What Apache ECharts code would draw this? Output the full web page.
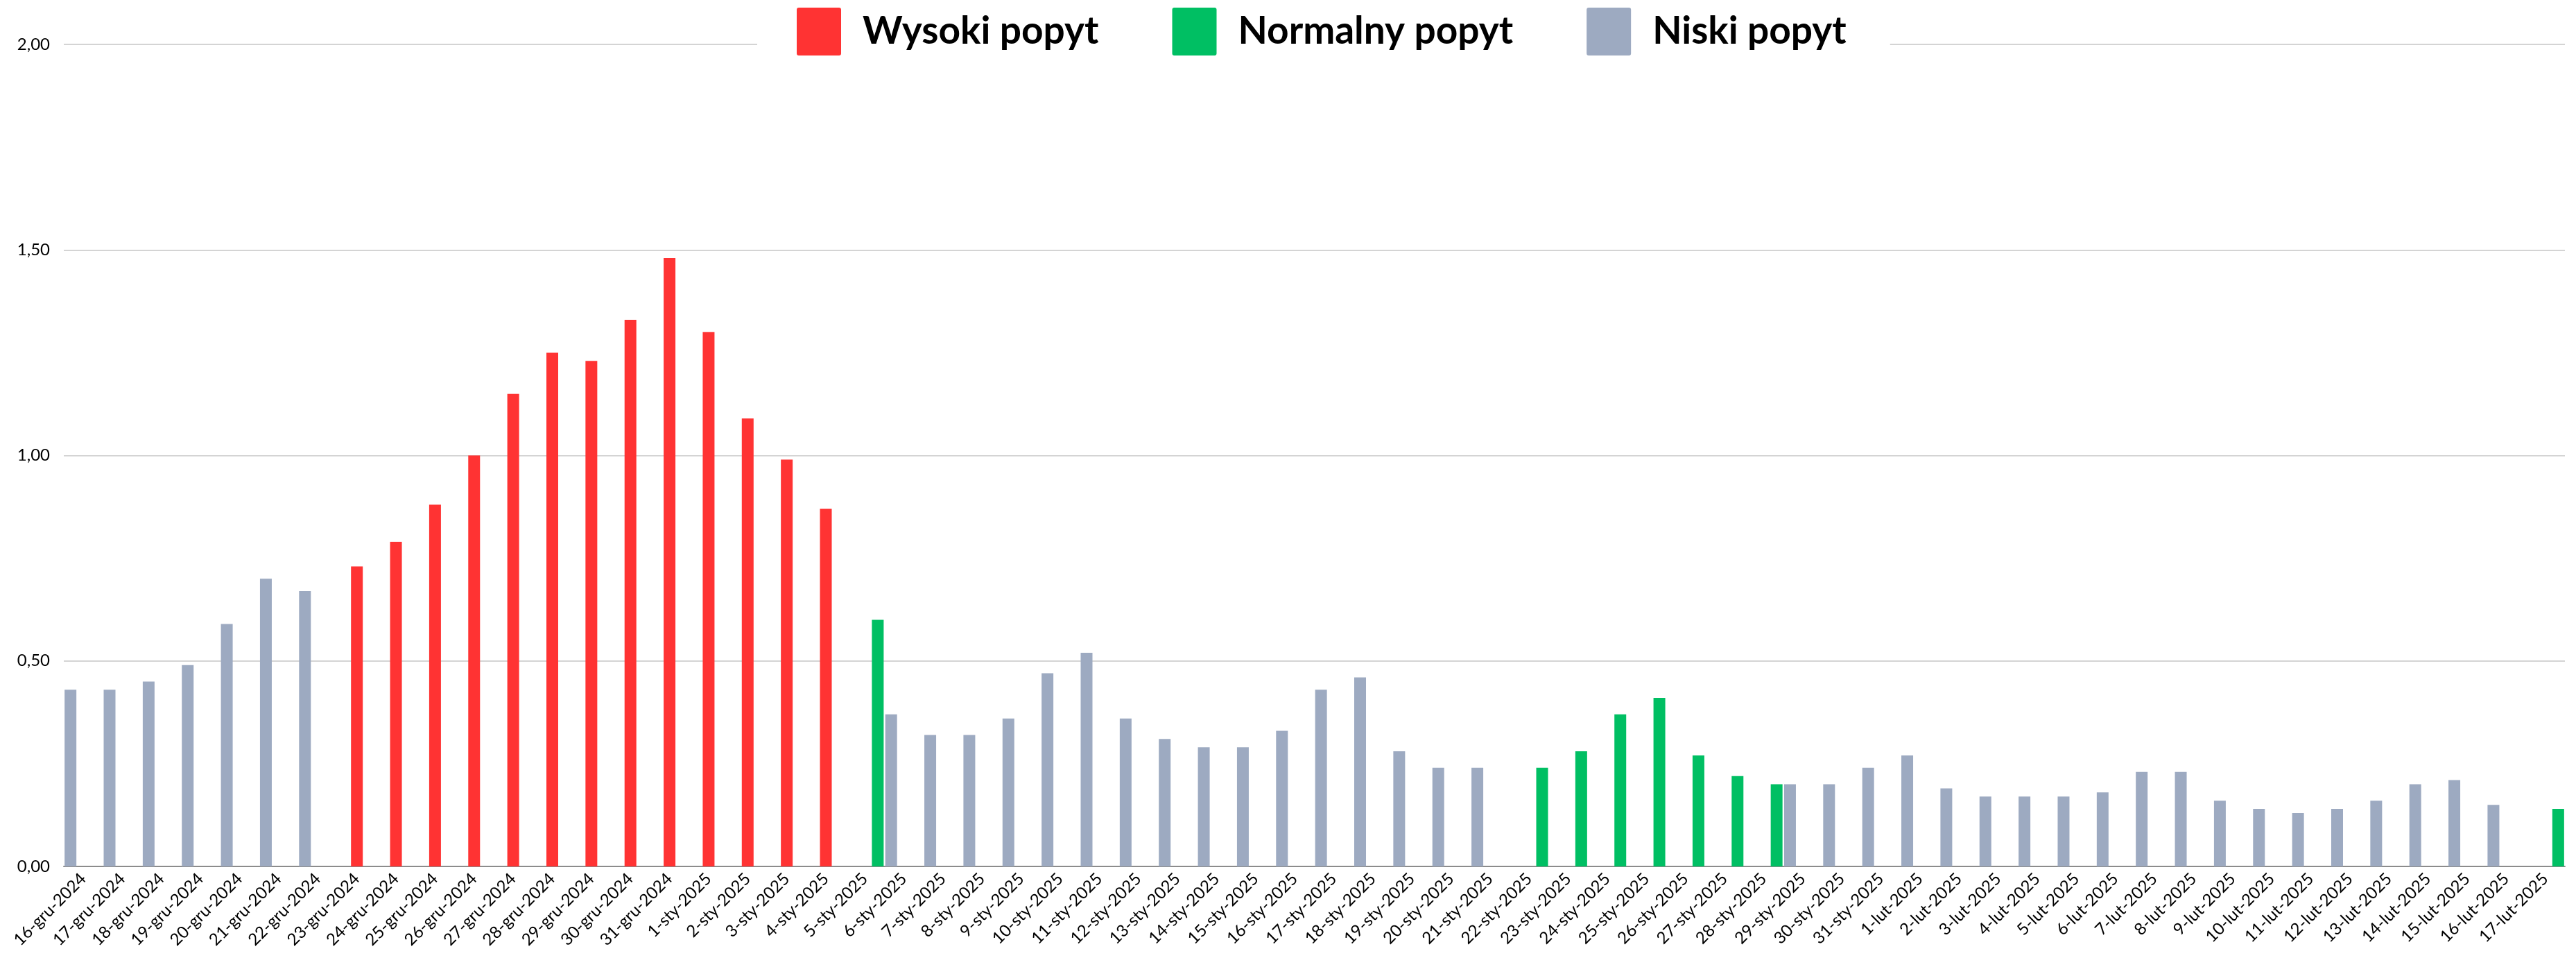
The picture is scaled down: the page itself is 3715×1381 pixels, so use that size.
<!DOCTYPE html>
<html>
<head>
<meta charset="utf-8">
<script src="https://cdn.jsdelivr.net/npm/echarts@6/dist/echarts.min.js"></script>
<style>
  html, body { margin: 0; padding: 0; background: #fff; }
  #chart { width: 3715px; height: 1381px; }
</style>
</head>
<body>
<div id="chart"></div>
<script>
const categories = [
  '16-gru-2024','17-gru-2024','18-gru-2024','19-gru-2024','20-gru-2024','21-gru-2024','22-gru-2024','23-gru-2024',
  '24-gru-2024','25-gru-2024','26-gru-2024','27-gru-2024','28-gru-2024','29-gru-2024','30-gru-2024','31-gru-2024',
  '1-sty-2025','2-sty-2025','3-sty-2025','4-sty-2025','5-sty-2025','6-sty-2025','7-sty-2025','8-sty-2025',
  '9-sty-2025','10-sty-2025','11-sty-2025','12-sty-2025','13-sty-2025','14-sty-2025','15-sty-2025','16-sty-2025',
  '17-sty-2025','18-sty-2025','19-sty-2025','20-sty-2025','21-sty-2025','22-sty-2025','23-sty-2025','24-sty-2025',
  '25-sty-2025','26-sty-2025','27-sty-2025','28-sty-2025','29-sty-2025','30-sty-2025','31-sty-2025','1-lut-2025',
  '2-lut-2025','3-lut-2025','4-lut-2025','5-lut-2025','6-lut-2025','7-lut-2025','8-lut-2025','9-lut-2025',
  '10-lut-2025','11-lut-2025','12-lut-2025','13-lut-2025','14-lut-2025','15-lut-2025','16-lut-2025','17-lut-2025'
];

// Niski popyt (grey)
const niski = [
  0.43,0.43,0.45,0.49,0.59,0.70,0.67,null,
  null,null,null,null,null,null,null,null,
  null,null,null,null,null,0.37,0.32,0.32,
  0.36,0.47,0.52,0.36,0.31,0.29,0.29,0.33,
  0.43,0.46,0.28,0.24,0.24,null,null,null,
  null,null,null,null,0.20,0.20,0.24,0.27,
  0.19,0.17,0.17,0.17,0.18,0.23,0.23,0.16,
  0.14,0.13,0.14,0.16,0.20,0.21,0.15,null
];

// Wysoki popyt (red)
const wysoki = [
  null,null,null,null,null,null,null,0.73,
  0.79,0.88,1.00,1.15,1.25,1.23,1.33,1.48,
  1.30,1.09,0.99,0.87,null,null,null,null,
  null,null,null,null,null,null,null,null,
  null,null,null,null,null,null,null,null,
  null,null,null,null,null,null,null,null,
  null,null,null,null,null,null,null,null,
  null,null,null,null,null,null,null,null
];

// Normalny popyt (green)
const normalny = [
  null,null,null,null,null,null,null,null,
  null,null,null,null,null,null,null,null,
  null,null,null,null,0.60,null,null,null,
  null,null,null,null,null,null,null,null,
  null,null,null,null,null,0.24,0.28,0.37,
  0.41,0.27,0.22,0.20,null,null,null,null,
  null,null,null,null,null,null,null,null,
  null,null,null,null,null,null,null,0.14
];

const yTicks = { min: 0, max: 2, interval: 0.5 };

const chart = echarts.init(document.getElementById('chart'), null, { renderer: 'canvas', devicePixelRatio: 1 });

const FONT = 'Lato';
const barW = 17;
const legendIcon = 'path://M3,0 H61 Q64,0 64,3 V66 Q64,69 61,69 H3 Q0,69 0,66 V3 Q0,0 3,0 Z';

chart.setOption({
  animation: false,
  backgroundColor: '#ffffff',
  textStyle: { fontFamily: FONT },
  legend: {
    data: ['Wysoki popyt', 'Normalny popyt', 'Niski popyt'],
    left: 1092,
    top: 0,
    padding: [11, 63, 10, 57],
    backgroundColor: '#ffffff',
    itemWidth: 64,
    itemHeight: 69,
    itemGap: 106,
    icon: legendIcon,
    textStyle: {
      fontFamily: FONT,
      fontSize: 55,
      fontWeight: 'bold',
      color: '#000000',
      padding: [0, 0, 0, 26]
    }
  },
  grid: { left: 92, right: 16, top: 64, bottom: 132, containLabel: false },
  xAxis: {
    type: 'category',
    data: categories,
    axisTick: { show: false },
    axisLine: { show: true, lineStyle: { color: '#8c8c8c', width: 2 } },
    axisLabel: {
      interval: 0,
      rotate: 45,
      margin: 14,
      fontFamily: FONT,
      fontSize: 24,
      color: '#000000'
    }
  },
  yAxis: {
    type: 'value',
    min: yTicks.min,
    max: yTicks.max,
    interval: yTicks.interval,
    axisLine: { show: false },
    axisTick: { show: false },
    splitLine: { lineStyle: { color: '#d4d4d4', width: 2 } },
    axisLabel: {
      margin: 20,
      fontFamily: FONT,
      fontSize: 24,
      color: '#000000',
      formatter: v => v.toFixed(2).replace('.', ',')
    }
  },
  series: [
    { name: 'Niski popyt', type: 'bar', data: niski, barWidth: barW, barGap: '9%',
      itemStyle: { color: '#9daac1' } },
    { name: 'Wysoki popyt', type: 'bar', data: wysoki, barWidth: barW, barGap: '9%',
      itemStyle: { color: '#ff3333' } },
    { name: 'Normalny popyt', type: 'bar', data: normalny, barWidth: barW, barGap: '9%',
      itemStyle: { color: '#00bf63' } }
  ]
});
</script>
</body>
</html>
